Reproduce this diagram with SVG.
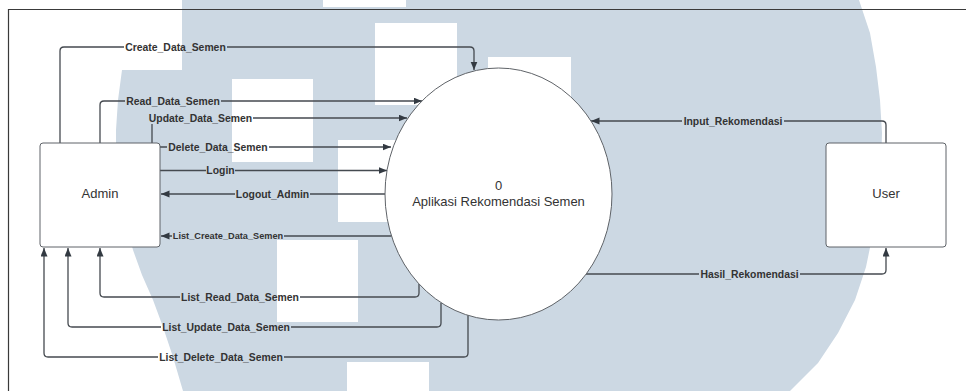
<svg xmlns="http://www.w3.org/2000/svg" width="966" height="391" viewBox="0 0 966 391">
<style>
.node{fill:#ffffff;stroke:#5f6368;stroke-width:1}
.ntext{font-family:"Liberation Sans",Arial,sans-serif;font-size:13px;fill:#333333;text-anchor:middle}
.lbl{font-family:"Liberation Sans",Arial,sans-serif;font-size:10.4px;font-weight:bold;fill:#333333;text-anchor:middle}
.lbl.small{font-size:9.2px}
.edge{fill:none;stroke:#454a50;stroke-width:1.3}
.frame{fill:none;stroke:#3a3a3a;stroke-width:1.2}
</style>
<defs>
<marker id="arrow" markerUnits="userSpaceOnUse" markerWidth="9" markerHeight="8" refX="8.5" refY="3.5" orient="auto">
<path d="M0,0 L8.5,3.5 L0,7 z" fill="#333a42"/>
</marker>
<mask id="labelgaps" maskUnits="userSpaceOnUse" x="0" y="0" width="966" height="391">
<rect x="0" y="0" width="966" height="391" fill="#fff"/>
<g fill="#000">
<rect x="124" y="42" width="103" height="10"/>
<rect x="125" y="96" width="96" height="10"/>
<rect x="148" y="112" width="105" height="12"/>
<rect x="167" y="142" width="102" height="10"/>
<rect x="206" y="165" width="29" height="11"/>
<rect x="235" y="189" width="75" height="10"/>
<rect x="172" y="231" width="112" height="10"/>
<rect x="180" y="292" width="120" height="10"/>
<rect x="161" y="322" width="130" height="10"/>
<rect x="158" y="352" width="126" height="10"/>
<rect x="682" y="116" width="102" height="10"/>
<rect x="699" y="269" width="101" height="10"/>
</g>
</mask>
</defs>

<g id="watermark">
<polygon fill="#ccd8e3" points="182,0 859,0 870,33 876,67 880,100 882,133 881,167 878,200 873,233 866,267 855,300 838,333 818,363 790,391 183,391 173,357 163,327 153,300 142,275 133,250 125,220 119,190 116,160 116,130 118,100 122,70 182,70"/>
<g fill="#ffffff">
<rect x="323" y="-75" width="83" height="82"/>
<rect x="375" y="23" width="82" height="82"/>
<rect x="488" y="57" width="83" height="82"/>
<rect x="232" y="79" width="81" height="83"/>
<rect x="338" y="140" width="82" height="82"/>
<rect x="277" y="240" width="81" height="82"/>
<rect x="347" y="362" width="82" height="82"/>
</g>
</g>

<g id="frame">
<path class="frame" d="M8.5 391 V9.5 H966"/>
</g>

<g id="connectors">
<g mask="url(#labelgaps)">
<path class="edge" marker-end="url(#arrow)" d="M60 143 V51 Q60 47 64 47 H470 Q474 47 474 51 V70"/>
<path class="edge" marker-end="url(#arrow)" d="M100 143 V105 Q100 101 104 101 H422"/>
<path class="edge" marker-end="url(#arrow)" d="M152 143 V122 Q152 118 156 118 H407"/>
<path class="edge" marker-end="url(#arrow)" d="M160 147 H391"/>
<path class="edge" marker-end="url(#arrow)" d="M160 170.5 H387"/>
<path class="edge" marker-end="url(#arrow)" d="M385.5 194 H161"/>
<path class="edge" marker-end="url(#arrow)" d="M391.5 236 H161"/>
<path class="edge" marker-end="url(#arrow)" d="M419 284 V293 Q419 297 415 297 H104 Q100 297 100 293 V248"/>
<path class="edge" marker-end="url(#arrow)" d="M441 303 V323 Q441 327 437 327 H72 Q68 327 68 323 V248"/>
<path class="edge" marker-end="url(#arrow)" d="M468 315 V353 Q468 357 464 357 H48 Q44 357 44 353 V248"/>
<path class="edge" marker-end="url(#arrow)" d="M886 143 V125 Q886 121 882 121 H591"/>
<path class="edge" marker-end="url(#arrow)" d="M586 274 H882 Q886 274 886 270 V248"/>
</g>
<text class="lbl" x="175.5" y="50.7">Create_Data_Semen</text>
<text class="lbl" x="173" y="104.7">Read_Data_Semen</text>
<text class="lbl" x="200.5" y="121.7">Update_Data_Semen</text>
<text class="lbl" x="218" y="150.7">Delete_Data_Semen</text>
<text class="lbl" x="220.5" y="174.2">Login</text>
<text class="lbl" x="272.5" y="197.7">Logout_Admin</text>
<text class="lbl small" x="228" y="239.3">List_Create_Data_Semen</text>
<text class="lbl" x="240" y="300.7">List_Read_Data_Semen</text>
<text class="lbl" x="226" y="330.7">List_Update_Data_Semen</text>
<text class="lbl" x="221" y="360.7">List_Delete_Data_Semen</text>
<text class="lbl" x="733" y="124.7">Input_Rekomendasi</text>
<text class="lbl" x="749.5" y="277.7">Hasil_Rekomendasi</text>
</g>

<g id="admin">
<rect class="node" x="40" y="143" width="120" height="104" rx="3"/>
<text class="ntext" x="100" y="197.5">Admin</text>
</g>

<g id="user">
<rect class="node" x="826" y="143" width="120" height="104" rx="3"/>
<text class="ntext" x="886" y="197.5">User</text>
</g>

<g id="process">
<ellipse class="node" cx="498.5" cy="194" rx="113.5" ry="126"/>
<text class="ntext" x="498.5" y="190">0</text>
<text class="ntext" x="498.5" y="206">Aplikasi Rekomendasi Semen</text>
</g>
</svg>
